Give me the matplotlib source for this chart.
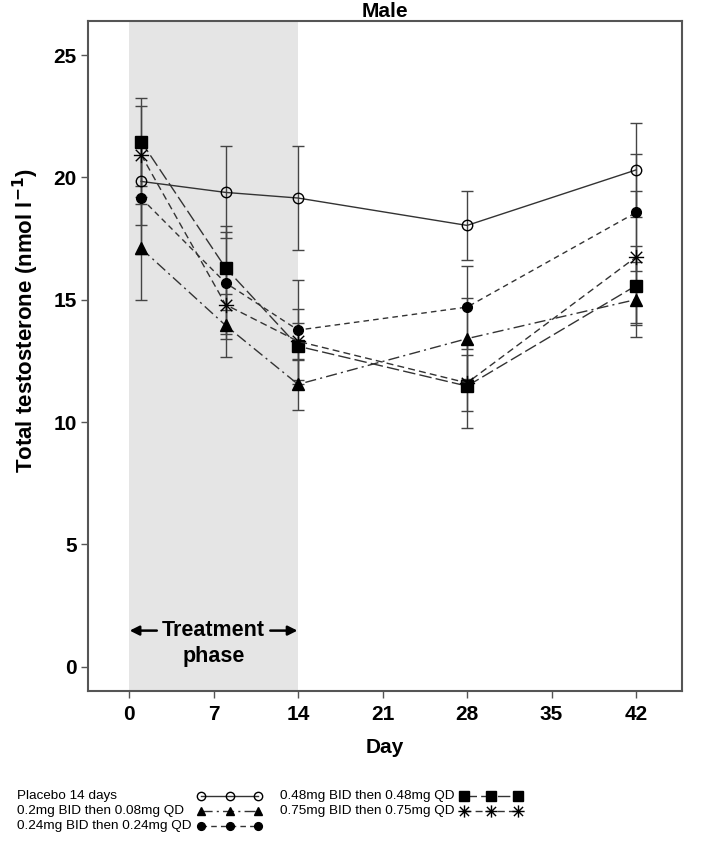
import matplotlib
matplotlib.use("Agg")
import matplotlib.pyplot as plt
from matplotlib.path import Path
import numpy as np

plt.rcParams['font.family'] = ['Liberation Sans', 'DejaVu Sans']

days = [1, 8, 14, 28, 42]
labels = ["Placebo 14 days",
          "0.2mg BID then 0.08mg QD",
          "0.24mg BID then 0.24mg QD",
          "0.48mg BID then 0.48mg QD",
          "0.75mg BID then 0.75mg QD"]

placebo = [19.84, 19.39, 19.16, 18.04, 20.31]
placebo_se = [1.77, 1.88, 2.11, 1.40, 1.93]
low = [17.10, 13.95, 11.54, 13.41, 15.01]
low_se = [2.10, 1.28, 1.05, 1.66, 1.53]
mid = [19.16, 15.69, 13.76, 14.70, 18.57]
mid_se = [2.30, 2.10, 2.04, 1.70, 2.40]
high = [21.47, 16.30, 13.10, 11.47, 15.58]
high_se = [1.80, 1.70, 1.54, 1.73, 1.60]
top = [20.93, 14.80, 13.30, 11.60, 16.75]
top_se = [2.00, 1.40, 0.75, 1.15, 2.70]

xticks = [0, 7, 14, 21, 28, 35, 42]
yticks = [0, 5, 10, 15, 20, 25]

ast = Path([(0, -1), (0, 1), (-0.75, -0.75), (0.75, 0.75), (-0.75, 0.75), (0.75, -0.75), (-1, 0), (1, 0)],
           [Path.MOVETO, Path.LINETO] * 4)

styles = [
    dict(marker='o', ms=7.5, mfc='none', ls='-'),
    dict(marker='^', ms=8, mfc='black', ls=(0, (8, 3, 1.5, 3))),
    dict(marker='o', ms=7, mfc='black', ls=(0, (4, 3))),
    dict(marker='s', ms=8.5, mfc='black', ls=(0, (9, 3))),
    dict(marker=ast, ms=11, mfc='none', ls=(0, (5, 3))),
]
series = [(placebo, placebo_se), (low, low_se), (mid, mid_se), (high, high_se), (top, top_se)]

fig = plt.figure(figsize=(7.09, 8.44), dpi=100)
ax = fig.add_axes([88/709, 1-691/844, (682-88)/709, (691-21)/844])

ax.axvspan(0, 14, color='#e5e5e5', lw=0, zorder=0)

for (vals, se), st in zip(series, styles):
    ax.errorbar(days, vals, yerr=se, fmt='none', ecolor='#444444', elinewidth=1,
                capsize=4.5, capthick=1, zorder=2)
    ax.plot(days, vals, color='#333333', lw=1, ls=st['ls'], marker=st['marker'],
            ms=st['ms'], mfc=st['mfc'], mec='black', mew=1, zorder=3)

ax.set_xlim(-3.4, 45.8)
ax.set_ylim(-1.0, 26.4)
ax.set_xticks(xticks)
ax.set_yticks(yticks)
for s in ax.spines.values():
    s.set_color('#555555')
    s.set_linewidth(1.5)
ax.tick_params(axis='both', length=5, width=1, color='#555555', labelsize=15)
ax.tick_params(axis='x', pad=5)
ax.tick_params(axis='y', pad=3)
for t in ax.get_xticklabels() + ax.get_yticklabels():
    t.set_fontweight('bold')

ax.set_title("Male", fontsize=15, fontweight='bold', pad=3)
ax.set_xlabel("Day", fontsize=15, fontweight='bold', labelpad=10)
ax.set_ylabel("Total testosterone (nmol l$^{\\mathbf{-1}}$)", fontsize=16, fontweight='bold', labelpad=9)
ax.yaxis.label.set_y(0.553)

# treatment phase annotation
ax.text(7, 1.47, "Treatment", ha='center', va='center', fontsize=15.5, fontweight='bold', zorder=4)
ax.text(7, 0.40, "phase", ha='center', va='center', fontsize=15.5, fontweight='bold', zorder=4)
ax.annotate("", xy=(0.05, 1.47), xytext=(2.3, 1.47),
            arrowprops=dict(arrowstyle='-|>', color='black', lw=1.8, mutation_scale=14, shrinkA=0, shrinkB=0))
ax.annotate("", xy=(13.95, 1.47), xytext=(11.7, 1.47),
            arrowprops=dict(arrowstyle='-|>', color='black', lw=1.8, mutation_scale=14, shrinkA=0, shrinkB=0))

# custom legend (text left, handle right)
lax = fig.add_axes([0, 0, 1, 84/844])
lax.set_xlim(0, 709)
lax.set_ylim(844, 760)
lax.axis('off')
rows = [(17, 796, 201, 258), (17, 811, 201, 258), (17, 826, 201, 258),
        (280, 796, 464, 518), (280, 811, 464, 518)]
for lab, st, (tx, ty, h0, h1) in zip(labels, styles, rows):
    lax.text(tx, ty, lab, ha='left', va='center', fontsize=9.7)
    lax.plot([h0, h1], [ty, ty], color='#333333', lw=1, ls=st['ls'])
    lax.plot([h0, (h0+h1)/2, h1], [ty]*3, ls='none', marker=st['marker'],
             ms=st['ms']*0.8, mfc=st['mfc'], mec='black', mew=1)

fig.savefig("out.png", dpi=100)
